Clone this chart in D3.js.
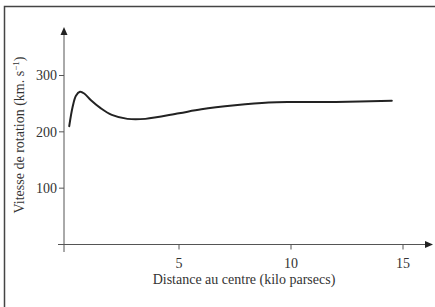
<!DOCTYPE html>
<html>
<head>
  <meta charset="utf-8">
  <script src="https://d3js.org/d3.v7.min.js"></script>
  <style>
    body { margin: 0; background: #fff; }
  </style>
</head>
<body>
  <svg width="435" height="307" font-family="'Liberation Serif', 'Times New Roman', Times, 'DejaVu Serif', serif"></svg>
  <script>
    // distance au centre (kpc) et vitesse de rotation (km/s)
    var distances = [0.1, 0.25, 0.4, 0.58, 0.77, 1.07, 1.5, 2.0, 2.7, 3.5, 5, 6, 7.5, 9, 10, 12, 14.5];
    var vitesses  = [210, 244, 264, 271, 268, 256, 242, 230, 223, 223, 233, 240, 247, 252, 253, 253, 255];
    var xTicks = [5, 10, 15];
    var yTicks = [100, 200, 300];

    var svg = d3.select("svg");
    var ink = "#333";

    var x = d3.scaleLinear().domain([0, 15]).range([67, 403]);
    var y = d3.scaleLinear().domain([0, 300]).range([244.5, 75.5]);

    var axisX0 = 64, axisY0 = y(0);

    // cadre
    svg.append("path")
        .attr("d", "M4.5,307 V6.5 H435")
        .attr("fill", "none")
        .attr("stroke", "#444")
        .attr("stroke-width", 1.5);

    // axe des y
    svg.append("line")
        .attr("x1", axisX0).attr("x2", axisX0)
        .attr("y1", 252).attr("y2", 32)
        .attr("stroke", "#555");
    svg.append("path")
        .attr("d", "M" + axisX0 + ",27 l-3.5,8 l7,0 z")
        .attr("fill", "#222");

    // axe des x
    svg.append("line")
        .attr("x1", 58).attr("x2", 428)
        .attr("y1", axisY0).attr("y2", axisY0)
        .attr("stroke", "#555");
    svg.append("path")
        .attr("d", "M433," + axisY0 + " l-8,-3.5 l0,7 z")
        .attr("fill", "#222");

    // graduations
    var gy = svg.append("g");
    gy.selectAll("line").data(yTicks).enter().append("line")
        .attr("x1", axisX0 - 5).attr("x2", axisX0)
        .attr("y1", function(d) { return y(d); })
        .attr("y2", function(d) { return y(d); })
        .attr("stroke", "#555");
    gy.selectAll("text").data(yTicks).enter().append("text")
        .attr("x", axisX0 - 7)
        .attr("y", function(d) { return y(d); })
        .attr("dy", "0.35em")
        .attr("text-anchor", "end")
        .attr("fill", ink)
        .style("font-size", "14px")
        .text(function(d) { return d; });

    var gx = svg.append("g");
    gx.selectAll("line").data(xTicks).enter().append("line")
        .attr("x1", function(d) { return x(d); })
        .attr("x2", function(d) { return x(d); })
        .attr("y1", axisY0).attr("y2", axisY0 + 5)
        .attr("stroke", "#555");
    gx.selectAll("text").data(xTicks).enter().append("text")
        .attr("x", function(d) { return x(d); })
        .attr("y", 268)
        .attr("text-anchor", "middle")
        .attr("fill", ink)
        .style("font-size", "14px")
        .text(function(d) { return d; });

    // titres des axes
    svg.append("text")
        .attr("x", 244).attr("y", 284)
        .attr("text-anchor", "middle")
        .attr("fill", ink)
        .style("font-size", "14px")
        .text("Distance au centre (kilo parsecs)");

    var yl = svg.append("text")
        .attr("transform", "translate(24,135) rotate(-90)")
        .attr("text-anchor", "middle")
        .attr("fill", ink)
        .style("font-size", "14px");
    yl.append("tspan").text("Vitesse de rotation (km. s");
    yl.append("tspan").attr("dy", "-5").style("font-size", "9px").text("\u22121");
    yl.append("tspan").attr("dy", "5").text(")");

    // courbe de rotation
    var pts = distances.map(function(d, i) { return [d, vitesses[i]]; });
    var line = d3.line()
        .x(function(d) { return x(d[0]); })
        .y(function(d) { return y(d[1]); })
        .curve(d3.curveCatmullRom.alpha(0.5));

    svg.append("path")
        .datum(pts)
        .attr("fill", "none")
        .attr("stroke", "#222")
        .attr("stroke-width", 2)
        .attr("stroke-linecap", "round")
        .attr("d", line);
  </script>
</body>
</html>
